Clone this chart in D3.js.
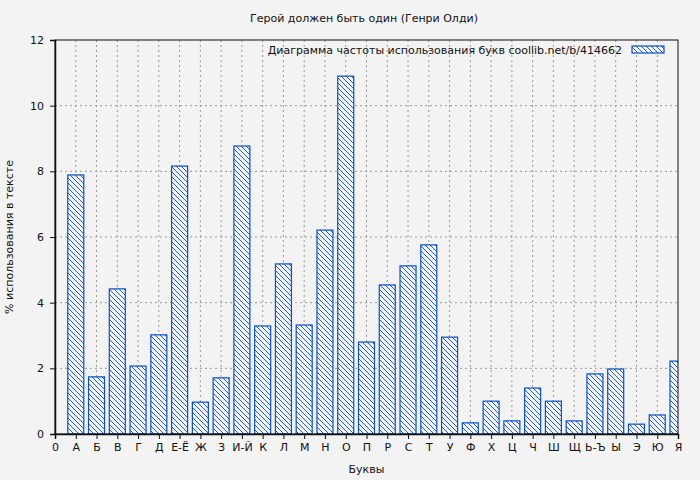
<!DOCTYPE html>
<html><head><meta charset="utf-8">
<script src="https://cdn.jsdelivr.net/npm/d3@7"></script>
<style>body{margin:0;background:#f3f3f3}text{font-family:"DejaVu Sans",sans-serif;fill:#111}</style>
</head><body><div id="chart"></div>
<script>
const WIDTH = 700, HEIGHT = 480;
const letters = ["0","А","Б","В","Г","Д","Е-Ё","Ж","З","И-Й","К","Л","М","Н","О","П","Р","С","Т","У","Ф","Х","Ц","Ч","Ш","Щ","Ь-Ъ","Ы","Э","Ю","Я"];
const barLetters = letters.slice(1);
const values = [7.89,1.74,4.42,2.07,3.02,8.16,0.97,1.71,8.77,3.29,5.18,3.32,6.21,10.9,2.80,4.54,5.12,5.76,2.95,0.34,1.0,0.40,1.40,1.0,0.40,1.83,1.98,0.30,0.58,2.22];
const yTicks = [0,2,4,6,8,10,12];

const m = {left:55, right:22, top:40, bottom:46};
const iw = WIDTH - m.left - m.right, ih = HEIGHT - m.top - m.bottom;
const blue = "#0a4fc4";

let svg = d3.select("#chart").append("svg").attr("width", WIDTH).attr("height", HEIGHT);
let defs = svg.append("defs");
let pat = defs.append("pattern").attr("id","hatch").attr("patternUnits","userSpaceOnUse")
    .attr("width",5).attr("height",5);
pat.append("rect").attr("width",5).attr("height",5).attr("fill","#f3f3f3");
pat.append("path").attr("d","M-1,-1 L6,6 M-1,4 L1,6 M4,-1 L6,1").attr("stroke",blue).attr("stroke-width",0.9);
defs.append("clipPath").attr("id","clip").append("rect").attr("width",iw).attr("height",ih);

let x = d3.scaleLinear().domain([0,30]).range([0,iw]);
let y = d3.scaleLinear().domain([0,12]).range([ih,0]);
let g = svg.append("g").attr("transform",`translate(${m.left},${m.top})`);

// grid
g.selectAll("line.vg").data(d3.range(1,30)).enter().append("line")
    .attr("x1",d=>x(d)).attr("x2",d=>x(d)).attr("y1",0).attr("y2",ih)
    .attr("stroke","#999").attr("stroke-dasharray","2,3");
g.selectAll("line.hg").data(yTicks.slice(1,-1)).enter().append("line")
    .attr("y1",d=>y(d)).attr("y2",d=>y(d)).attr("x1",0).attr("x2",iw)
    .attr("stroke","#999").attr("stroke-dasharray","2,3");

const bw = 16;
g.append("g").attr("clip-path","url(#clip)").selectAll("rect").data(values).enter().append("rect")
    .attr("x",(d,i)=>x(i+1)-bw/2).attr("y",d=>y(d)).attr("width",bw).attr("height",d=>ih-y(d))
    .attr("fill","url(#hatch)").attr("stroke",blue).attr("stroke-width",1.2);

g.append("rect").attr("width",iw).attr("height",ih).attr("fill","none").attr("stroke","#111");

let xa = g.append("g").attr("transform",`translate(0,${ih})`)
    .call(d3.axisBottom(x).tickValues(d3.range(0,31)).tickFormat(i=>letters[i]).tickSize(5).tickPadding(4));
let ya = g.append("g").call(d3.axisLeft(y).tickValues(yTicks).tickSize(5).tickPadding(6));
[xa,ya].forEach(a=>{a.select(".domain").attr("stroke","#111").attr("stroke-width",1.5);
    a.selectAll("line").attr("stroke","#111"); a.selectAll("text").style("font-size","11px").attr("fill","#111");});

svg.append("text").attr("x",WIDTH/2+14).attr("y",22).attr("text-anchor","middle").style("font-size","11px")
    .text("Герой должен быть один (Генри Олди)");
svg.append("text").attr("x",m.left+iw/2).attr("y",473).attr("text-anchor","middle").style("font-size","11px").text("Буквы");
svg.append("text").attr("transform",`translate(13,${m.top+ih/2}) rotate(-90)`).attr("text-anchor","middle")
    .style("font-size","11px").text("% использования в тексте");

svg.append("text").attr("x",622).attr("y",54).attr("text-anchor","end").style("font-size","11px")
    .text("Диаграмма частоты использования букв  coollib.net/b/414662");
svg.append("rect").attr("x",632).attr("y",46).attr("width",32).attr("height",7)
    .attr("fill","url(#hatch)").attr("stroke",blue).attr("stroke-width",1.2);
</script></body></html>
